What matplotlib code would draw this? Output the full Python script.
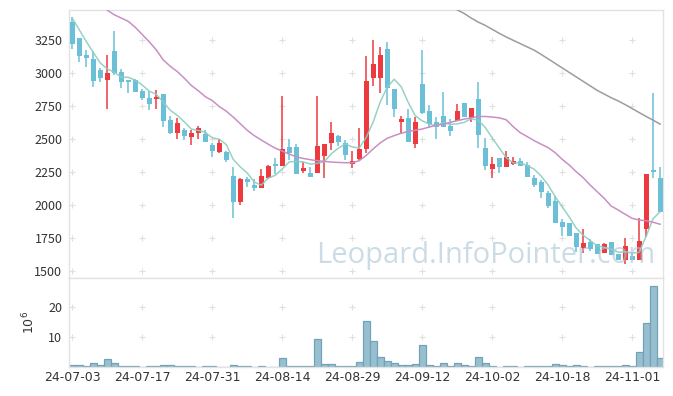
import numpy as np
import matplotlib
matplotlib.use("Agg")
import matplotlib.pyplot as plt

# daily candles, one per trading day (index 0 = 24-07-03)
opens = [3384, 3265, 3136, 3106, 3024, 2949, 3167, 3008, 2947, 2947,
         2864, 2811, 2805, 2841, 2644, 2548, 2568, 2516, 2542, 2538,
         2456, 2404, 2401, 2220, 2025, 2197, 2151, 2131, 2202, 2308,
         2298, 2439, 2439, 2258, 2242, 2245, 2374, 2467, 2523, 2467,
         2313, 2348, 2427, 2964, 2964, 3182, 2879, 2631, 2659, 2464,
         2917, 2712, 2629, 2674, 2598, 2639, 2770, 2661, 2801, 2430,
         2270, 2354, 2290, 2308, 2336, 2303, 2207, 2177, 2089, 2033,
         1874, 1866, 1786, 1677, 1722, 1702, 1634, 1717, 1629, 1583,
         1616, 1583, 1821, 2265, 2203]
highs = [3422, 3268, 3172, 3169, 3040, 3136, 3317, 3032, 2947, 2955,
         2881, 2864, 2871, 2841, 2677, 2658, 2586, 2565, 2599, 2564,
         2470, 2498, 2405, 2290, 2202, 2214, 2195, 2275, 2303, 2354,
         2828, 2498, 2460, 2326, 2285, 2828, 2465, 2627, 2530, 2492,
         2409, 2581, 3131, 3250, 3195, 3232, 2879, 2674, 2730, 2669,
         3174, 2758, 2669, 2854, 2649, 2763, 2770, 2732, 2930, 2510,
         2366, 2354, 2409, 2360, 2358, 2328, 2227, 2189, 2106, 2068,
         1892, 1866, 1786, 1817, 1740, 1702, 1714, 1717, 1629, 1750,
         1646, 1899, 2234, 2846, 2290]
lows = [3180, 3081, 3043, 2896, 2930, 2730, 2984, 2882, 2845, 2856,
        2793, 2717, 2725, 2593, 2537, 2498, 2492, 2452, 2499, 2475,
        2361, 2397, 2328, 1899, 2000, 2134, 2108, 2131, 2198, 2233,
        2298, 2341, 2236, 2245, 2214, 2242, 2202, 2417, 2447, 2341,
        2278, 2341, 2392, 2901, 2846, 2758, 2664, 2548, 2480, 2430,
        2692, 2581, 2498, 2590, 2525, 2636, 2667, 2629, 2434, 2265,
        2202, 2240, 2290, 2305, 2295, 2214, 2134, 2051, 1980, 1861,
        1765, 1765, 1642, 1634, 1651, 1630, 1634, 1621, 1583, 1553,
        1583, 1580, 1758, 2202, 1950]
closes = [3222, 3131, 3116, 2942, 2963, 3000, 3002, 2933, 2934, 2858,
          2812, 2767, 2820, 2639, 2547, 2619, 2524, 2546, 2584, 2477,
          2411, 2470, 2341, 2025, 2195, 2177, 2131, 2220, 2295, 2298,
          2422, 2396, 2238, 2278, 2214, 2447, 2460, 2543, 2480, 2379,
          2333, 2424, 2939, 3068, 3136, 2889, 2730, 2652, 2480, 2627,
          2695, 2611, 2589, 2593, 2563, 2712, 2667, 2732, 2533, 2298,
          2311, 2290, 2361, 2333, 2295, 2214, 2151, 2101, 1992, 1861,
          1831, 1767, 1679, 1710, 1668, 1632, 1704, 1621, 1583, 1689,
          1583, 1728, 2234, 2248, 1950]

# volume in millions
volumes = [0.78, 0.78, 0.44, 1.44, 0.78, 2.8, 1.44, 0.4, 0.4, 0.4,
           0.1, 0.4, 0.4, 0.78, 0.78, 0.4, 0.4, 0.4, 0.1, 0.4,
           0.4, 0.1, 0.1, 0.78, 0.4, 0.4, 0.1, 0.4, 0.1, 0.1,
           3.1, 0.4, 0.4, 0.4, 0.4, 9.4, 1.0, 1.0, 0.4, 0.4,
           0.4, 1.67, 15.3, 8.7, 3.3, 2.0, 1.33, 0.67, 0.67, 1.0,
           7.3, 0.67, 0.33, 1.33, 0.33, 1.33, 0.67, 0.33, 3.3, 1.33,
           0.33, 0.1, 0.33, 0.33, 0.1, 0.33, 0.33, 0.33, 0.33, 1.0,
           0.67, 0.33, 0.67, 0.33, 0.1, 0.33, 0.33, 0.33, 0.33, 0.67,
           0.33, 5.0, 14.7, 27.0, 3.0]

# moving averages
ma5 = [3414, 3326, 3237, 3154, 3075, 3030, 3005, 2968, 2966, 2945,
       2908, 2861, 2838, 2779, 2717, 2678, 2630, 2575, 2564, 2550,
       2508, 2498, 2457, 2345, 2288, 2242, 2174, 2150, 2204, 2224,
       2273, 2326, 2330, 2326, 2310, 2315, 2327, 2388, 2429, 2462,
       2439, 2432, 2511, 2629, 2780, 2891, 2952, 2895, 2777, 2676,
       2637, 2613, 2600, 2623, 2610, 2614, 2625, 2653, 2641, 2588,
       2508, 2433, 2359, 2319, 2318, 2299, 2271, 2219, 2151, 2064,
       1987, 1910, 1826, 1770, 1731, 1691, 1679, 1667, 1642, 1646,
       1636, 1641, 1763, 1896, 1949]
ma20_start = 4
ma20 = [3530, 3475, 3440, 3415, 3390, 3345, 3290, 3235, 3174, 3098,
        3050, 3010, 2960, 2905, 2865, 2820, 2790, 2745, 2710, 2665,
        2615, 2565, 2525, 2492, 2460, 2430, 2408, 2385, 2365, 2352,
        2343, 2335, 2330, 2325, 2322, 2320, 2320, 2335, 2375, 2425,
        2470, 2505, 2525, 2543, 2556, 2566, 2575, 2590, 2603, 2612,
        2625, 2638, 2650, 2660, 2670, 2670, 2666, 2660, 2645, 2593,
        2548, 2518, 2487, 2460, 2434, 2396, 2346, 2303, 2252, 2207,
        2151, 2101, 2051, 1992, 1962, 1930, 1899, 1886, 1881, 1869,
        1854]
ma60_start = 54
ma60 = [3520, 3477, 3450, 3415, 3385, 3360, 3330, 3300, 3272, 3247,
        3222, 3197, 3172, 3140, 3106, 3072, 3038, 3004, 2970, 2936,
        2902, 2868, 2840, 2812, 2788, 2760, 2730, 2700, 2670, 2642,
        2612]

tick_labels = ["24-07-03", "24-07-17", "24-07-31", "24-08-14", "24-08-29",
               "24-09-12", "24-10-02", "24-10-18", "24-11-01"]

UP = "#ec3a3e"
DOWN = "#6bc0d8"

fig = plt.figure(figsize=(6.73, 3.96), dpi=100)
ax = fig.add_axes([0.103, 0.298, 0.882, 0.677])
axv = fig.add_axes([0.103, 0.0725, 0.882, 0.2255], sharex=ax)

idx = np.arange(len(closes))
o = np.array(opens)
c = np.array(closes)
colors = [UP if cc >= oo else DOWN for oo, cc in zip(o, c)]

# -----------------------------
# candles
# -----------------------------
ax.vlines(idx, lows, highs, colors=colors, linewidth=1.1, zorder=2)
body_h = np.maximum(np.abs(c - o), 6)
ax.bar(idx, body_h, bottom=np.minimum(o, c), width=0.72,
       color=colors, linewidth=0, zorder=3)

# -----------------------------
# moving averages
# -----------------------------
ax.plot(idx, ma5, color="#8ccdc0", lw=1.1, alpha=0.9, zorder=4)
ax.plot(np.arange(ma20_start, ma20_start + len(ma20)), ma20,
        color="#c98fc5", lw=1.1, zorder=4)
ax.plot(np.arange(ma60_start, ma60_start + len(ma60)), ma60,
        color="#9c9c9c", lw=1.1, zorder=4)

ax.text(0.9865, 0.056, "Leopard.InfoPointer.com", transform=ax.transAxes,
        ha="right", va="baseline", fontsize=21, family="Open Sans",
        color="#a9c6d6", alpha=0.6, zorder=5)

# -----------------------------
# volume
# -----------------------------
axv.bar(idx, volumes, width=1.0, color="#97bfd0", edgecolor="#72a2b8",
        linewidth=0.9, zorder=2)

# -----------------------------
# axes styling
# -----------------------------
yt = [1500, 1750, 2000, 2250, 2500, 2750, 3000, 3250]
ax.set_ylim(1447, 3477)
ax.set_yticks(yt)
ax.set_xlim(-0.43, 84.4)
xt = np.arange(0, 90, 10)
axv.set_xticks(xt)
axv.set_xticklabels(tick_labels)
axv.set_ylim(0, 29.8)
axv.set_yticks([10, 20])
axv.set_ylabel(r"$10^6$", fontsize=9, color="#333333")
axv.yaxis.set_label_coords(-0.054, 0.5)

for a in (ax, axv):
    for s in a.spines.values():
        s.set_color("#e3e3e3")
        s.set_linewidth(1.0)
    a.tick_params(length=0, labelsize=9, labelcolor="#333333", pad=5)
    a.set_facecolor("white")
    for lab in a.get_yticklabels():
        lab.set_family("Noto Sans CJK KR")
ax.tick_params(axis="x", labelbottom=False)
axv.tick_params(axis="x", pad=3)

# + marks at the grid crossings
gx, gy = np.meshgrid(xt, yt)
ax.plot(gx.ravel(), gy.ravel(), "+", color="#e0e0e0", ms=5, mew=0.8, zorder=0)
gx, gy = np.meshgrid(xt, [10, 20])
axv.plot(gx.ravel(), gy.ravel(), "+", color="#e0e0e0", ms=5, mew=0.8, zorder=0)

fig.savefig("out.png", dpi=100)
